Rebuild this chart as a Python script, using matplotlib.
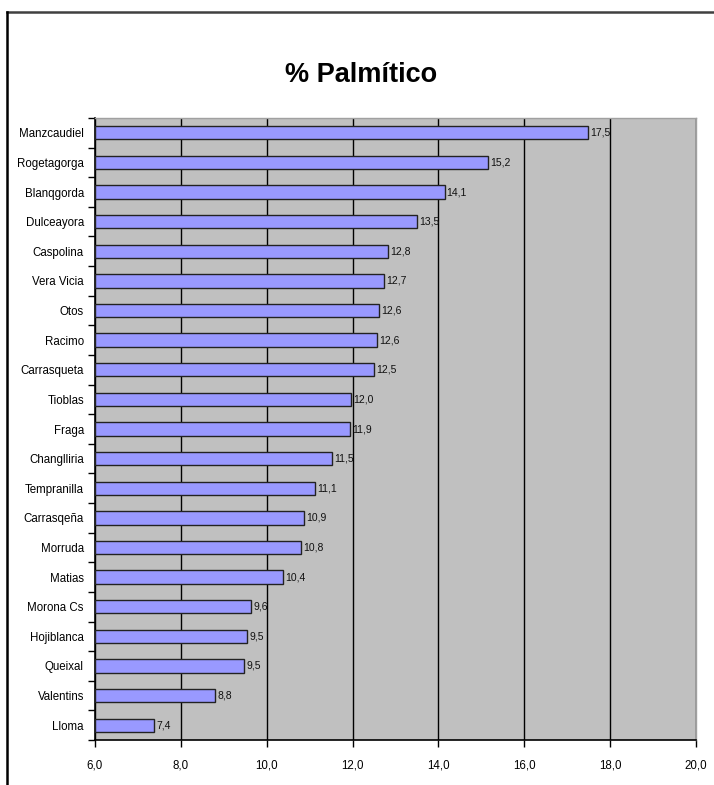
import numpy as np
import matplotlib.pyplot as plt
from matplotlib.lines import Line2D
from matplotlib.ticker import FuncFormatter

# variedades, de arriba a abajo
variedades = ['Manzcaudiel', 'Rogetagorga', 'Blanqgorda', 'Dulceayora', 'Caspolina',
              'Vera Vicia', 'Otos', 'Racimo', 'Carrasqueta', 'Tioblas', 'Fraga',
              'Changlliria', 'Tempranilla', 'Carrasqeña', 'Morruda', 'Matias',
              'Morona Cs', 'Hojiblanca', 'Queixal', 'Valentins', 'Lloma']
# % palmitico
palmitico = [17.49, 15.16, 14.14, 13.50, 12.83, 12.74, 12.62, 12.57, 12.50, 11.97,
             11.94, 11.52, 11.13, 10.86, 10.79, 10.37, 9.64, 9.54, 9.47, 8.80, 7.37]
xticks = [6, 8, 10, 12, 14, 16, 18, 20]

plt.rcParams['font.family'] = ['Liberation Sans', 'DejaVu Sans']

fig = plt.figure(figsize=(7.14, 7.85), dpi=100)
ax = fig.add_axes([0.133, 0.0573, 0.842, 0.7924])

y = np.arange(len(variedades))
ax.set_facecolor('#C0C0C0')
bars = ax.barh(y, np.array(palmitico) - 6, left=6, height=0.45,
               color='#9999FF', edgecolor='#222222', linewidth=1.0, zorder=3)
for yi, v in zip(y, palmitico):
    ax.text(v + 0.05, yi, ('%.1f' % v).replace('.', ','), va='center', ha='left',
            fontsize=7.5, color='#111111', zorder=4)

ax.set_xlim(6, 20)
ax.set_ylim(len(variedades) - 0.5, -0.5)
ax.set_xticks(xticks)
ax.xaxis.set_major_formatter(FuncFormatter(lambda v, p: ('%.1f' % v).replace('.', ',')))
ax.grid(axis='x', color='black', linewidth=1.0, zorder=1)
ax.set_axisbelow(True)

ax.set_yticks(y)
ax.set_yticklabels(variedades, fontsize=8.3)
ax.set_yticks(np.arange(-0.5, len(variedades), 1), minor=True)
ax.tick_params(axis='y', which='major', length=0, pad=8)
ax.tick_params(axis='y', which='minor', length=5, width=1, color='black')
ax.tick_params(axis='x', length=5, width=1, labelsize=8.3, pad=9)

for s in ['top', 'right']:
    ax.spines[s].set_color('#A0A0A0')
    ax.spines[s].set_linewidth(1)
for s in ['left', 'bottom']:
    ax.spines[s].set_color('black')
    ax.spines[s].set_linewidth(1.2)

fig.text(0.505, 0.905, '% Palmítico', ha='center', va='center',
         fontsize=19.5, fontweight='bold')

# borde del area del grafico
fig.add_artist(Line2D([7/714, 1], [1 - 12/785, 1 - 12/785], color='#404040', linewidth=1.8))
fig.add_artist(Line2D([7/714, 7/714], [0, 1 - 12/785], color='black', linewidth=1.8))

plt.savefig('out.png', dpi=100)
